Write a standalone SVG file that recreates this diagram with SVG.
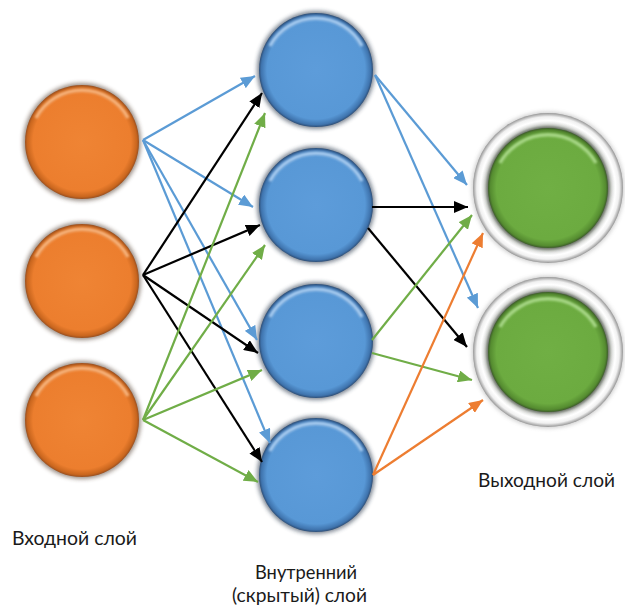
<svg xmlns="http://www.w3.org/2000/svg" xmlns:xlink="http://www.w3.org/1999/xlink" width="625" height="612" viewBox="0 0 625 612">
  <style>
    .lbl { font-family: Lato, "Liberation Sans", Arial, sans-serif; font-size: 18.5px; fill: #1a1a1a; }
    .c { fill: none; stroke-width: 2.2; }
    .blue { stroke: #5B9BD5; marker-end: url(#arBlue); }
    .black { stroke: #000; marker-end: url(#arBlack); }
    .green { stroke: #70AD47; marker-end: url(#arGreen); }
    .orange { stroke: #ED7D31; marker-end: url(#arOrange); }
  </style>
  <defs>
    <filter id="soft" x="-20%" y="-20%" width="140%" height="140%">
      <feGaussianBlur stdDeviation="2"/>
    </filter>
    <filter id="soft1" x="-20%" y="-20%" width="140%" height="140%">
      <feGaussianBlur stdDeviation="1.2"/>
    </filter>

    <radialGradient id="gOrange" cx="50%" cy="50%" r="50%">
      <stop offset="0" stop-color="#EF8434"/>
      <stop offset="0.86" stop-color="#EC7E2E"/>
      <stop offset="0.96" stop-color="#C9661E"/>
      <stop offset="1" stop-color="#9A5020"/>
    </radialGradient>
    <radialGradient id="gBlue" cx="50%" cy="50%" r="50%">
      <stop offset="0" stop-color="#5D9CDA"/>
      <stop offset="0.86" stop-color="#5898D6"/>
      <stop offset="0.96" stop-color="#3F74AE"/>
      <stop offset="1" stop-color="#2E4F78"/>
    </radialGradient>
    <radialGradient id="gGreen" cx="50%" cy="50%" r="50%">
      <stop offset="0" stop-color="#70AF44"/>
      <stop offset="0.86" stop-color="#6CAB40"/>
      <stop offset="0.96" stop-color="#558C30"/>
      <stop offset="1" stop-color="#3E5E2A"/>
    </radialGradient>
    <radialGradient id="gRing" cx="50%" cy="50%" r="50%">
      <stop offset="0.78" stop-color="#8A8A8A"/>
      <stop offset="0.84" stop-color="#E6E6E6"/>
      <stop offset="0.9" stop-color="#FFFFFF"/>
      <stop offset="0.95" stop-color="#F0F0F0"/>
      <stop offset="1" stop-color="#979797"/>
    </radialGradient>

    <!-- reusable bevelled balls -->
    <g id="ballOrange">
      <circle r="59" fill="#4A3628" opacity="0.55" filter="url(#soft)"/>
      <circle r="57" fill="url(#gOrange)"/>
      <path d="M-46,-24 A52,52 0 0 1 46,-24" fill="none" stroke="#F7B27A" stroke-width="3.5" filter="url(#soft1)"/>
    </g>
    <g id="ballBlue">
      <circle r="59" fill="#253448" opacity="0.6" filter="url(#soft)"/>
      <circle r="57" fill="url(#gBlue)"/>
      <path d="M-46,-24 A52,52 0 0 1 46,-24" fill="none" stroke="#A6CBF0" stroke-width="3.5" filter="url(#soft1)"/>
    </g>
    <g id="ballGreen">
      <circle r="76" fill="#888" opacity="0.45" filter="url(#soft)"/>
      <circle r="75" fill="url(#gRing)"/>
      <circle r="62" fill="#33402A" opacity="0.6" filter="url(#soft)"/>
      <circle r="60" fill="url(#gGreen)"/>
      <path d="M-48,-25 A55,55 0 0 1 48,-25" fill="none" stroke="#A8D887" stroke-width="3.5" filter="url(#soft1)"/>
    </g>

    <marker id="arBlue" markerUnits="userSpaceOnUse" markerWidth="15" markerHeight="12" refX="14" refY="6" orient="auto">
      <path d="M0,0 L14,6 L0,12 z" fill="#5B9BD5"/>
    </marker>
    <marker id="arBlack" markerUnits="userSpaceOnUse" markerWidth="15" markerHeight="12" refX="14" refY="6" orient="auto">
      <path d="M0,0 L14,6 L0,12 z" fill="#000"/>
    </marker>
    <marker id="arGreen" markerUnits="userSpaceOnUse" markerWidth="15" markerHeight="12" refX="14" refY="6" orient="auto">
      <path d="M0,0 L14,6 L0,12 z" fill="#70AD47"/>
    </marker>
    <marker id="arOrange" markerUnits="userSpaceOnUse" markerWidth="15" markerHeight="12" refX="14" refY="6" orient="auto">
      <path d="M0,0 L14,6 L0,12 z" fill="#ED7D31"/>
    </marker>
  </defs>

  <rect width="625" height="612" fill="#fff"/>

  <!-- input layer -->
  <g id="in1"><use xlink:href="#ballOrange" x="82" y="142"/></g>
  <g id="in2"><use xlink:href="#ballOrange" x="82" y="281"/></g>
  <g id="in3"><use xlink:href="#ballOrange" x="82" y="420"/></g>

  <!-- hidden layer -->
  <g id="h1"><use xlink:href="#ballBlue" x="316" y="70"/></g>
  <g id="h2"><use xlink:href="#ballBlue" x="316" y="205"/></g>
  <g id="h3"><use xlink:href="#ballBlue" x="316" y="341"/></g>
  <g id="h4"><use xlink:href="#ballBlue" x="316" y="475"/></g>

  <!-- output layer -->
  <g id="out1"><use xlink:href="#ballGreen" x="548" y="188"/></g>
  <g id="out2"><use xlink:href="#ballGreen" x="548" y="352"/></g>

  <!-- connections -->
  <g id="connectors">
    <line class="c blue" x1="143" y1="140" x2="255" y2="76"/>
    <line class="c blue" x1="143" y1="140" x2="253" y2="207"/>
    <line class="c blue" x1="143" y1="140" x2="257" y2="340"/>
    <line class="c blue" x1="143" y1="140" x2="270" y2="443"/>

    <line class="c black" x1="143" y1="275" x2="262" y2="93"/>
    <line class="c black" x1="143" y1="275" x2="260" y2="225"/>
    <line class="c black" x1="143" y1="275" x2="258" y2="353"/>
    <line class="c black" x1="143" y1="275" x2="262" y2="462"/>

    <line class="c green" x1="143" y1="420" x2="265" y2="113"/>
    <line class="c green" x1="143" y1="420" x2="265" y2="245"/>
    <line class="c green" x1="143" y1="420" x2="262" y2="370"/>
    <line class="c green" x1="143" y1="420" x2="258" y2="482"/>

    <line class="c blue" x1="375" y1="75" x2="467" y2="185"/>
    <line class="c blue" x1="375" y1="75" x2="478" y2="308"/>
    <line class="c black" x1="372" y1="207" x2="468" y2="207"/>
    <line class="c black" x1="368" y1="228" x2="467" y2="347"/>
    <line class="c green" x1="372" y1="340" x2="472" y2="215"/>
    <line class="c green" x1="372" y1="353" x2="472" y2="380"/>
    <line class="c orange" x1="373" y1="475" x2="483" y2="233"/>
    <line class="c orange" x1="373" y1="475" x2="483" y2="400"/>
  </g>

  <!-- layer captions -->
  <text class="lbl" x="12" y="545" textLength="125" lengthAdjust="spacingAndGlyphs">Входной слой</text>
  <text class="lbl" x="255" y="579" textLength="102" lengthAdjust="spacingAndGlyphs">Внутренний</text>
  <text class="lbl" x="232" y="602" textLength="135" lengthAdjust="spacingAndGlyphs">(скрытый) слой</text>
  <text class="lbl" x="478" y="487" textLength="137" lengthAdjust="spacingAndGlyphs">Выходной слой</text>
</svg>
